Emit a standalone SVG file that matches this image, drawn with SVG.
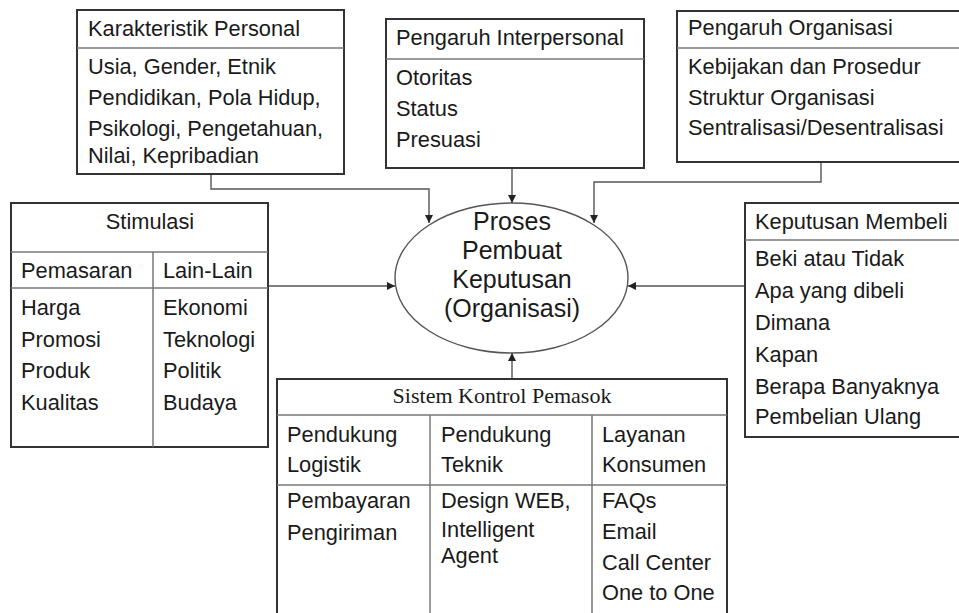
<svg xmlns="http://www.w3.org/2000/svg" width="959" height="613" viewBox="0 0 959 613">
  <style>
    .box { fill: #fff; stroke: #333; stroke-width: 2; }
    .div { fill: none; stroke: #777; stroke-width: 1.5; }
    .conn { fill: none; stroke: #555; stroke-width: 1.4; }
    text { font-family: "Liberation Sans", Arial, sans-serif; font-size: 21.8px; fill: #1a1a1a; }
    .serif { font-family: "Liberation Serif", "Times New Roman", serif; font-size: 22px; }
    .big { font-size: 25px; text-anchor: middle; }
  </style>
  <defs>
    <marker id="arrow" viewBox="0 0 10 10" refX="10" refY="5" markerWidth="8" markerHeight="8" markerUnits="userSpaceOnUse" orient="auto">
      <path d="M0 0 L10 5 L0 10 Z" fill="#222"/>
    </marker>
  </defs>
  <rect width="959" height="613" fill="#fff"/>

  <g id="connectors">
    <path class="conn" d="M211 174 V189 H429 V223" marker-end="url(#arrow)"/>
    <path class="conn" d="M512 168 V203" marker-end="url(#arrow)"/>
    <path class="conn" d="M821 162 V182 H594 V223" marker-end="url(#arrow)"/>
    <path class="conn" d="M268 286 H395" marker-end="url(#arrow)"/>
    <path class="conn" d="M745 286 H628" marker-end="url(#arrow)"/>
    <path class="conn" d="M512 379 V353" marker-end="url(#arrow)"/>
  </g>

  <g id="karakteristik-personal">
    <rect class="box" x="77" y="10" width="267" height="164"/>
    <line class="div" x1="77" y1="48" x2="344" y2="48"/>
    <text x="88" y="36">Karakteristik Personal</text>
    <text x="88" y="74">Usia, Gender, Etnik</text>
    <text x="88" y="105">Pendidikan, Pola Hidup,</text>
    <text x="88" y="136">Psikologi, Pengetahuan,</text>
    <text x="88" y="163">Nilai, Kepribadian</text>
  </g>

  <g id="pengaruh-interpersonal">
    <rect class="box" x="386" y="19" width="258" height="149"/>
    <line class="div" x1="386" y1="59" x2="644" y2="59"/>
    <text x="396" y="45">Pengaruh Interpersonal</text>
    <text x="396" y="85">Otoritas</text>
    <text x="396" y="116">Status</text>
    <text x="396" y="147">Presuasi</text>
  </g>

  <g id="pengaruh-organisasi">
    <rect class="box" x="677" y="11" width="290" height="151"/>
    <line class="div" x1="677" y1="48" x2="967" y2="48"/>
    <text x="688" y="35">Pengaruh Organisasi</text>
    <text x="688" y="74">Kebijakan dan Prosedur</text>
    <text x="688" y="105">Struktur Organisasi</text>
    <text x="688" y="135">Sentralisasi/Desentralisasi</text>
  </g>

  <g id="stimulasi">
    <rect class="box" x="11" y="203" width="257" height="244"/>
    <line class="div" x1="11" y1="252" x2="268" y2="252"/>
    <line class="div" x1="11" y1="288" x2="268" y2="288"/>
    <line class="div" x1="153" y1="252" x2="153" y2="447"/>
    <text x="150" y="229" text-anchor="middle">Stimulasi</text>
    <text x="21" y="278">Pemasaran</text>
    <text x="163" y="278">Lain-Lain</text>
    <text x="21" y="315">Harga</text>
    <text x="21" y="347">Promosi</text>
    <text x="21" y="378">Produk</text>
    <text x="21" y="410">Kualitas</text>
    <text x="163" y="315">Ekonomi</text>
    <text x="163" y="347">Teknologi</text>
    <text x="163" y="378">Politik</text>
    <text x="163" y="410">Budaya</text>
  </g>

  <g id="proses">
    <ellipse cx="511.5" cy="278" rx="116.5" ry="75" fill="#fff" stroke="#555" stroke-width="1.4"/>
    <text class="big" x="512" y="230">Proses</text>
    <text class="big" x="512" y="259">Pembuat</text>
    <text class="big" x="512" y="288">Keputusan</text>
    <text class="big" x="512" y="317">(Organisasi)</text>
  </g>

  <g id="keputusan-membeli">
    <rect class="box" x="745" y="203" width="222" height="234"/>
    <line class="div" x1="745" y1="240" x2="967" y2="240"/>
    <text x="755" y="229">Keputusan Membeli</text>
    <text x="755" y="266">Beki atau Tidak</text>
    <text x="755" y="298">Apa yang dibeli</text>
    <text x="755" y="330">Dimana</text>
    <text x="755" y="362">Kapan</text>
    <text x="755" y="394">Berapa Banyaknya</text>
    <text x="755" y="424">Pembelian Ulang</text>
  </g>

  <g id="sistem-kontrol-pemasok">
    <rect class="box" x="277" y="379" width="450" height="250"/>
    <line class="div" x1="277" y1="415" x2="727" y2="415"/>
    <line class="div" x1="277" y1="485" x2="727" y2="485"/>
    <line class="div" x1="430" y1="415" x2="430" y2="629"/>
    <line class="div" x1="592" y1="415" x2="592" y2="629"/>
    <text class="serif" x="502" y="403" text-anchor="middle">Sistem Kontrol Pemasok</text>
    <text x="287" y="442">Pendukung</text>
    <text x="287" y="472">Logistik</text>
    <text x="441" y="442">Pendukung</text>
    <text x="441" y="472">Teknik</text>
    <text x="602" y="442">Layanan</text>
    <text x="602" y="472">Konsumen</text>
    <text x="287" y="508">Pembayaran</text>
    <text x="287" y="540">Pengiriman</text>
    <text x="441" y="508">Design WEB,</text>
    <text x="441" y="537">Intelligent</text>
    <text x="441" y="563">Agent</text>
    <text x="602" y="508">FAQs</text>
    <text x="602" y="539">Email</text>
    <text x="602" y="570">Call Center</text>
    <text x="602" y="600">One to One</text>
  </g>
</svg>
